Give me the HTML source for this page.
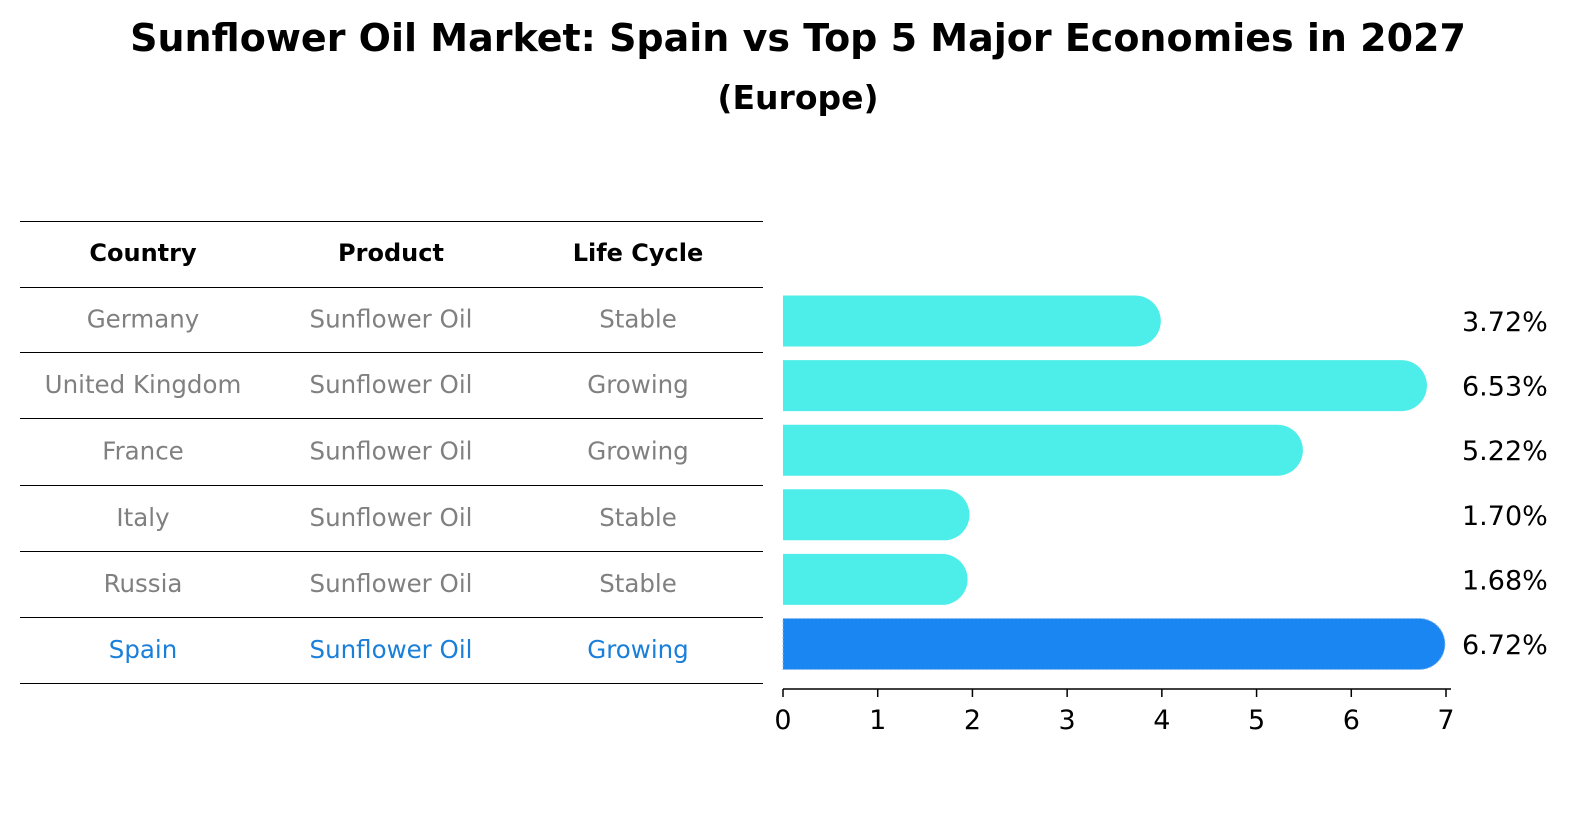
<!DOCTYPE html>
<html><head><meta charset="utf-8">
<style>
body{margin:0;background:#fff;}
svg text{font-family:"DejaVu Sans","Liberation Sans",sans-serif;}
</style></head>
<body>
<svg id="chart" width="1586" height="823" xmlns="http://www.w3.org/2000/svg">
<text x="798" y="51" text-anchor="middle" font-size="38" font-weight="bold">Sunflower Oil Market: Spain vs Top 5 Major Economies in 2027</text>
<text x="798" y="109" text-anchor="middle" font-size="33" font-weight="bold">(Europe)</text>
<g id="table"></g>
<g id="bars"></g>
<g id="axis"></g>
</svg>
<script>
const countries=["Germany","United Kingdom","France","Italy","Russia","Spain"];
const products=["Sunflower Oil","Sunflower Oil","Sunflower Oil","Sunflower Oil","Sunflower Oil","Sunflower Oil"];
const lifeCycles=["Stable","Growing","Growing","Stable","Stable","Growing"];
const values=[3.72,6.53,5.22,1.70,1.68,6.72];
const valueLabels=["3.72%","6.53%","5.22%","1.70%","1.68%","6.72%"];
const ticks=[0,1,2,3,4,5,6,7];

const NS="http://www.w3.org/2000/svg";
function mk(tag,attrs,parent){const e=document.createElementNS(NS,tag);for(const k in attrs)e.setAttribute(k,attrs[k]);parent.appendChild(e);return e;}
const x0=783,x1=1446,xmax=7;
function xs(v){return x0+(x1-x0)*v/xmax;}
const rowY0=321,rowStep=64.6,barH=51,r=25.5;
function ys(i){return rowY0+i*rowStep;}

const tbl=document.getElementById('table');
const lineYs=[221,287,352,418,485,551,617,683];
lineYs.forEach(y=>{const l=mk('line',{x1:20,x2:763,y1:y+0.5,y2:y+0.5,stroke:'#000','stroke-width':1,'shape-rendering':'crispEdges'},tbl);

});
const colX=[143,391,638];
["Country","Product","Life Cycle"].forEach((h,j)=>{const t=mk('text',{x:colX[j],y:261,'text-anchor':'middle','font-size':24,'font-weight':'bold'},tbl);t.textContent=h;

});
countries.forEach((c,i)=>{
  const cy=(lineYs[i+1]+lineYs[i+2])/2+8;
  const col=c==="Spain"?"#1a7fd9":"#808080";
  [c,products[i],lifeCycles[i]].forEach((v,j)=>{
    const t=mk('text',{x:colX[j],y:cy,'text-anchor':'middle','font-size':24.5,fill:col},tbl);t.textContent=v;
    
    
  });
});

const bars=document.getElementById('bars');
values.forEach((v,i)=>{
  const cy=ys(i),top=cy-barH/2,xe=xs(v);
  const spain=countries[i]==="Spain";
  const d=`M${x0},${top} L${xe},${top} A${r},${barH/2} 0 0 1 ${xe},${top+barH} L${x0},${top+barH} Z`;
  const p=mk('path',{d:d,fill:spain?'#1a86f2':'#4deeea'},bars);
  if(spain){p.setAttribute('stroke','#8ab8f0');p.setAttribute('stroke-dasharray','2,2');p.setAttribute('stroke-width','1');}
  
  
  const t=mk('text',{x:1462,y:cy+10,'font-size':27},bars);t.textContent=valueLabels[i];
  
  
});

const ax=document.getElementById('axis');
const al=mk('line',{x1:x0,x2:x1+5,y1:689,y2:689,stroke:'#000','stroke-width':1.5},ax);


ticks.forEach(tv=>{
  const tl=mk('line',{x1:xs(tv),x2:xs(tv),y1:689,y2:697,stroke:'#000','stroke-width':1.5},ax);
  
  
  const t=mk('text',{x:xs(tv),y:729,'text-anchor':'middle','font-size':27},ax);t.textContent=tv;
  
  
});
</script>
</body></html>
